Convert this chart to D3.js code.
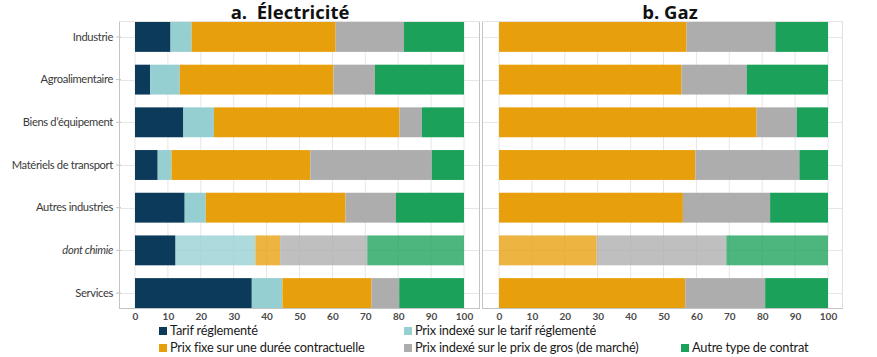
<!DOCTYPE html>
<html><head><meta charset="utf-8">
<script src="https://cdn.jsdelivr.net/npm/d3@7"></script>
<style>
body{margin:0;background:#fff;}
svg{display:block;}
</style></head>
<body>
<svg id="chart" width="877" height="357"></svg>
<script>
const categories = ["Industrie","Agroalimentaire","Biens d’équipement","Matériels de transport","Autres industries","dont chimie","Services"];
const seriesNames = ["Tarif réglementé","Prix indexé sur le tarif réglementé","Prix fixe sur une durée contractuelle","Prix indexé sur le prix de gros (de marché)","Autre type de contrat"];
const seriesColors = ["#0b3a5a","#96cfd2","#e89f0c","#adadad","#1ba15a"];
// Électricité (%)
const elecTarif    = [10.8, 4.6, 14.7, 6.9, 15.1, 12.3, 35.5];
const elecIndexTar = [6.4, 9.0, 9.3, 4.2, 6.4, 24.3, 9.3];
const elecFixe     = [43.8, 46.7, 56.4, 42.2, 42.5, 7.5, 27.1];
const elecGros     = [20.7, 12.6, 6.8, 36.9, 15.3, 26.5, 8.4];
const elecAutre    = [18.3, 27.1, 12.8, 9.8, 20.7, 29.4, 19.7];
// Gaz (%)
const gazTarif     = [0, 0, 0, 0, 0, 0, 0];
const gazIndexTar  = [0, 0, 0, 0, 0, 0, 0];
const gazFixe      = [57.0, 55.5, 78.3, 59.7, 55.9, 29.7, 56.6];
const gazGros      = [27.0, 19.8, 12.2, 31.6, 26.5, 39.4, 24.3];
const gazAutre     = [16.0, 24.7, 9.5, 8.7, 17.6, 30.9, 19.1];
const xTicks = [0,10,20,30,40,50,60,70,80,90,100];
const titles = ["a.\u00a0 Électricité","b. Gaz"];

const svg = d3.select("#chart");
const y = d3.scaleBand().domain(categories).range([22, 308]).paddingInner(0.3).paddingOuter(0);

function tableFrom(arrs){
  return categories.map((c,i)=>{
    const o={cat:c};
    seriesNames.forEach((s,k)=>o[s]=arrs[k][i]);
    return o;
  });
}
const panels = [
  {frame:[119,480], range:[135,464], data:tableFrom([elecTarif,elecIndexTar,elecFixe,elecGros,elecAutre]), title:titles[0], tx:290, labels:true},
  {frame:[482,843], range:[499,828], data:tableFrom([gazTarif,gazIndexTar,gazFixe,gazGros,gazAutre]), title:titles[1], tx:670, labels:false}
];
const stack = d3.stack().keys(seriesNames);

panels.forEach(p=>{
  const x = d3.scaleLinear().domain([0,100]).range(p.range);
  const g = svg.append("g");
  // grid
  g.selectAll(".vg").data(xTicks).join("line")
    .attr("x1",d=>x(d)).attr("x2",d=>x(d)).attr("y1",22).attr("y2",308)
    .attr("stroke","#e6e6e6").attr("stroke-width",1);
  g.selectAll(".hg").data(categories).join("line")
    .attr("x1",p.frame[0]).attr("x2",p.frame[1])
    .attr("y1",d=>Math.round(y(d)+y.bandwidth()/2)+0.5).attr("y2",d=>Math.round(y(d)+y.bandwidth()/2)+0.5)
    .attr("stroke","#e6e6e6");
  // frame
  g.append("line").attr("x1",p.frame[0]).attr("x2",p.frame[1]).attr("y1",21.5).attr("y2",21.5).attr("stroke","#e4e4e4");
  g.append("line").attr("x1",p.frame[1]-0.5).attr("x2",p.frame[1]-0.5).attr("y1",22).attr("y2",308)
    .attr("stroke", p.labels ? "#c4c4c4" : "#e0e0e0");
  // bars
  const st = stack(p.data);
  st.forEach((layer,k)=>{
    g.append("g").selectAll("rect").data(layer).join("rect")
      .attr("x",d=>x(d[0])).attr("width",d=>Math.max(0,x(d[1])-x(d[0])))
      .attr("y",d=>y(d.data.cat)).attr("height",y.bandwidth())
      .attr("fill",seriesColors[k])
      .attr("fill-opacity",d=>d.data.cat==="dont chimie" && k>0 ? 0.78 : 1);
  });
  g.append("line").attr("x1",p.frame[0]+0.5).attr("x2",p.frame[0]+0.5).attr("y1",22).attr("y2",308.5).attr("stroke","#c4c4c4");
  g.append("line").attr("x1",p.frame[0]).attr("x2",p.frame[1]).attr("y1",308.5).attr("y2",308.5).attr("stroke","#c4c4c4");
  // x axis labels
  const ax = g.append("g").attr("transform","translate(0,308)")
    .call(d3.axisBottom(x).tickValues(xTicks).tickSize(0).tickPadding(5).tickFormat(d3.format("d")));
  ax.select(".domain").remove();
  ax.selectAll("text").attr("font-family","Lato,sans-serif")
    .attr("font-size","10px").attr("font-weight","bold").attr("fill","#4a4a4a");
  // y axis
  if(p.labels){
    const ay = g.append("g").attr("transform",`translate(${p.frame[0]+2},0)`)
      .call(d3.axisLeft(y).tickSize(5).tickPadding(3));
    ay.select(".domain").remove();
    ay.selectAll(".tick line").attr("stroke","#c4c4c4");
    ay.selectAll("text").attr("font-family","Lato,sans-serif")
      .attr("font-size","11.2px").attr("letter-spacing","-0.35px").attr("fill","#3a3a3a")
      .attr("font-style",d=>d==="dont chimie"?"italic":"normal");
  }
  // title
  svg.append("text").attr("x",p.tx).attr("y",19).attr("text-anchor","middle")
    .attr("font-family","'Open Sans',sans-serif").attr("font-weight","bold").attr("font-size","18.5px")
    .attr("fill","#111").text(p.title);
});

// legend
const legendPos = [[159,330],[404,330],[159,347],[404,347],[681,347]];
const lg = svg.append("g");
seriesNames.forEach((s,k)=>{
  const [lx,ly] = legendPos[k];
  lg.append("rect").attr("x",lx).attr("y",ly-3).attr("width",8).attr("height",8).attr("fill",seriesColors[k]);
  lg.append("text").attr("x",lx+11).attr("y",ly+5).attr("font-family","Lato,sans-serif")
    .attr("font-size","12.8px").attr("letter-spacing","-0.2px").attr("fill","#1a1a1a").text(s);
});
</script>
</body></html>
